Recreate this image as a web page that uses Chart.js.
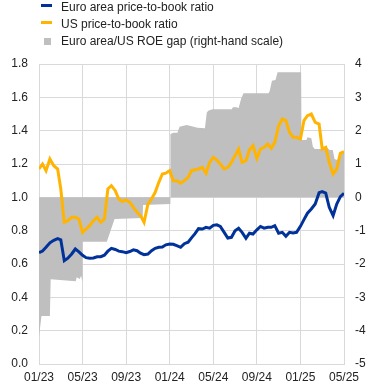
<!DOCTYPE html>
<html>
<head>
<meta charset="utf-8">
<script src="https://cdn.jsdelivr.net/npm/chart.js@4.4.1/dist/chart.umd.min.js"></script>
<style>
  body { margin: 0; background: #fff; }
  #wrap { position: relative; width: 372px; height: 391px; font-family: Arial, "Liberation Sans", sans-serif; }
  #chart { position: absolute; left: 0; top: 0; }
  .item { position: absolute; left: 61px; font-size: 12px; line-height: 14px; color: #222; white-space: nowrap; }
  .mark { position: absolute; }
</style>
</head>
<body>
<div id="wrap">
  <canvas id="chart" width="372" height="391"></canvas>
  <div id="legend"></div>
</div>
<script>
// Price-to-book ratios, sampled on the 1st, 11th and 21st of each month
const ptbDates = [
  '2023-01-01','2023-01-11','2023-01-21','2023-02-01','2023-02-11','2023-02-21','2023-03-01','2023-03-11','2023-03-21',
  '2023-04-01','2023-04-11','2023-04-21','2023-05-01','2023-05-11','2023-05-21','2023-06-01','2023-06-11','2023-06-21',
  '2023-07-01','2023-07-11','2023-07-21','2023-08-01','2023-08-11','2023-08-21','2023-09-01','2023-09-11','2023-09-21',
  '2023-10-01','2023-10-11','2023-10-21','2023-11-01','2023-11-11','2023-11-21','2023-12-01','2023-12-11','2023-12-21',
  '2024-01-01','2024-01-11','2024-01-21','2024-02-01','2024-02-11','2024-02-21','2024-03-01','2024-03-11','2024-03-21',
  '2024-04-01','2024-04-11','2024-04-21','2024-05-01','2024-05-11','2024-05-21','2024-06-01','2024-06-11','2024-06-21',
  '2024-07-01','2024-07-11','2024-07-21','2024-08-01','2024-08-11','2024-08-21','2024-09-01','2024-09-11','2024-09-21',
  '2024-10-01','2024-10-11','2024-10-21','2024-11-01','2024-11-11','2024-11-21','2024-12-01','2024-12-11','2024-12-21',
  '2025-01-01','2025-01-11','2025-01-21','2025-02-01','2025-02-11','2025-02-21','2025-03-01','2025-03-11','2025-03-21',
  '2025-04-01','2025-04-11','2025-04-21','2025-05-01'
];

const euroPtb = [
  0.668,0.678,0.700,0.727,0.742,0.752,0.745,0.620,0.635,0.660,
  0.690,0.673,0.652,0.638,0.634,0.636,0.643,0.644,0.653,0.677,
  0.694,0.687,0.677,0.674,0.668,0.675,0.685,0.680,0.665,0.656,
  0.660,0.680,0.694,0.700,0.702,0.715,0.720,0.718,0.710,0.700,
  0.722,0.731,0.757,0.782,0.812,0.810,0.820,0.815,0.832,0.835,
  0.826,0.790,0.756,0.760,0.800,0.815,0.790,0.754,0.785,0.780,
  0.805,0.825,0.815,0.820,0.820,0.830,0.785,0.790,0.766,0.790,
  0.786,0.790,0.826,0.866,0.905,0.930,0.960,1.028,1.034,1.025,
  0.940,0.890,0.960,1.004,1.024
];

const usPtb = [
  1.17,1.20,1.16,1.23,1.19,1.17,1.05,0.85,0.86,0.88,
  0.88,0.87,0.79,0.81,0.83,0.86,0.88,0.85,0.87,1.05,
  1.07,1.04,0.99,0.975,0.985,0.97,0.94,0.91,0.89,0.85,
  0.96,0.99,1.03,1.09,1.14,1.145,1.16,1.10,1.10,1.085,
  1.10,1.12,1.16,1.165,1.17,1.18,1.145,1.21,1.24,1.224,
  1.20,1.17,1.18,1.21,1.25,1.29,1.21,1.22,1.285,1.31,
  1.234,1.29,1.30,1.32,1.294,1.33,1.43,1.47,1.46,1.39,
  1.36,1.36,1.35,1.46,1.49,1.50,1.45,1.44,1.29,1.30,
  1.21,1.14,1.17,1.264,1.275
];

// ROE gap (euro area minus US), percentage points, right-hand scale
const roeDates = [
  '2023-01-01','2023-01-08','2023-02-01','2023-02-03','2023-04-12','2023-04-15','2023-04-23','2023-04-27','2023-04-30',
  '2023-05-01','2023-07-08','2023-07-30','2023-10-17','2023-10-18','2024-01-02','2024-01-03','2024-01-12','2024-01-23',
  '2024-01-29','2024-02-17','2024-03-02','2024-03-18','2024-04-08','2024-04-13','2024-04-17','2024-04-29','2024-06-22',
  '2024-06-25','2024-07-06','2024-07-11','2024-07-18','2024-07-25','2024-10-03','2024-10-06','2024-10-13','2024-10-23',
  '2024-10-29','2025-01-03','2025-01-04','2025-01-18','2025-01-21','2025-02-01','2025-02-05','2025-02-10','2025-02-28',
  '2025-03-05','2025-03-14','2025-03-22','2025-03-31','2025-04-05','2025-04-12','2025-04-21','2025-05-01'
];

const roeGap = [
  -4.18,-3.56,-3.56,-2.46,-2.52,-2.40,-2.45,-2.35,-2.50,
  -1.33,-1.33,-0.65,-0.62,-0.23,-0.20,1.90,1.94,1.94,
  2.12,2.17,2.13,2.09,2.07,2.54,2.60,2.64,2.64,
  2.70,2.70,2.67,2.95,3.12,3.12,3.17,3.50,3.52,
  3.75,3.75,1.72,1.72,1.80,1.77,1.52,1.45,1.45,
  1.52,1.50,1.42,1.42,1.15,1.12,1.27,1.37
];

const seriesLabels = ['Euro area price-to-book ratio', 'US price-to-book ratio', 'Euro area/US ROE gap (right-hand scale)'];
const colors = ['#003299', '#ffb400', '#bfbfbf'];
const textColor = '#222';
const gridColor = '#d9d9d9';
const fontFamily = 'Arial, "Liberation Sans", sans-serif';

// months since January 2023
function toMonths(s) {
    const [y, m, d] = s.split('-').map(Number);
    const days = new Date(y, m, 0).getDate();
    return (y - 2023) * 12 + (m - 1) + (d - 1) / days;
}

function toPoints(dates, values) {
    return dates.map((d, i) => ({ x: toMonths(d), y: values[i] }));
}

// HTML legend, one entry per line
const legendTops = [0, 17, 34];
const legend = document.getElementById('legend');
seriesLabels.forEach((label, i) => {
    const mark = document.createElement('div');
    mark.className = 'mark';
    if (i < 2) {
        mark.style.cssText = `left:41px;top:${legendTops[i] + 4}px;width:11px;height:3px;background:${colors[i]}`;
    } else {
        mark.style.cssText = `left:44px;top:${legendTops[i] + 4}px;width:7px;height:7px;background:${colors[i]}`;
    }
    legend.appendChild(mark);
    const txt = document.createElement('div');
    txt.className = 'item';
    txt.style.top = legendTops[i] + 'px';
    txt.textContent = label;
    legend.appendChild(txt);
});

const ctx = document.getElementById('chart').getContext('2d');
new Chart(ctx, {
    type: 'line',
    data: {
        datasets: [
            {
                label: seriesLabels[0],
                data: toPoints(ptbDates, euroPtb),
                borderColor: colors[0],
                borderWidth: 3,
                pointRadius: 0,
                tension: 0,
                fill: false,
                yAxisID: 'y',
                order: 0
            },
            {
                label: seriesLabels[1],
                data: toPoints(ptbDates, usPtb),
                borderColor: colors[1],
                borderWidth: 3,
                pointRadius: 0,
                tension: 0,
                fill: false,
                yAxisID: 'y',
                order: 1
            },
            {
                label: seriesLabels[2],
                data: toPoints(roeDates, roeGap),
                borderColor: colors[2],
                backgroundColor: colors[2],
                borderWidth: 0,
                pointRadius: 0,
                tension: 0,
                fill: 'origin',
                yAxisID: 'y2',
                order: 2
            }
        ]
    },
    options: {
        responsive: false,
        animation: false,
        events: [],
        layout: { padding: { top: 64, left: 0, right: 0, bottom: 0 } },
        plugins: {
            legend: { display: false },
            tooltip: { enabled: false }
        },
        scales: {
            x: {
                type: 'linear',
                min: 0,
                max: 28,
                afterFit: s => { s.height = 27; },
                grid: { color: gridColor, drawTicks: false },
                border: { color: gridColor },
                ticks: {
                    stepSize: 4,
                    padding: 6,
                    maxRotation: 0,
                    color: textColor,
                    font: { family: fontFamily, size: 12 },
                    callback: v => String(v % 12 + 1).padStart(2, '0') + '/' + (23 + Math.floor(v / 12))
                }
            },
            y: {
                position: 'left',
                min: 0,
                max: 1.8,
                afterFit: s => { s.width = 39; },
                grid: { color: gridColor, drawTicks: false },
                border: { color: gridColor },
                ticks: {
                    stepSize: 0.2,
                    padding: 11,
                    color: textColor,
                    font: { family: fontFamily, size: 12 },
                    callback: v => v.toFixed(1)
                }
            },
            y2: {
                position: 'right',
                min: -5,
                max: 4,
                afterFit: s => { s.width = 28; },
                grid: { display: false, drawTicks: false },
                border: { color: gridColor },
                ticks: {
                    stepSize: 1,
                    padding: 11,
                    color: textColor,
                    font: { family: fontFamily, size: 12 },
                    callback: v => String(v)
                }
            }
        }
    }
});
</script>
</body>
</html>
